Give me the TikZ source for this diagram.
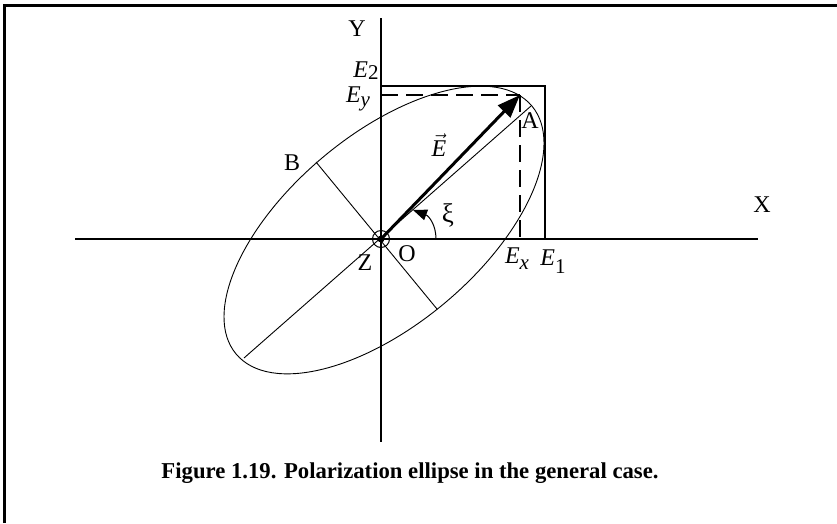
\documentclass[tikz,border=0pt]{standalone}
\usepackage{fontspec}
\setmainfont{Liberation Serif}
\usetikzlibrary{arrows.meta}
\newcommand\lsub[2]{\raisebox{-#1pt}{\fontsize{21}{23}\selectfont #2}}
\begin{document}
\begin{tikzpicture}[x=1pt,y=-1pt,
  lbl/.style={font=\fontsize{24}{28}\selectfont, inner sep=0pt},
  axis/.style={line width=1.5pt},
  thinline/.style={line width=0.9pt},
  dsh/.style={line width=1.5pt, dash pattern=on 17pt off 8pt}]
\useasboundingbox (0,0) rectangle (837,523);
% frame
\coordinate (F0) at (4.3,523);
\coordinate (F1) at (4.3,5.5);
\coordinate (F2) at (837,5.5);
\draw[line width=3pt] (F0) -- (F1) -- (F2);
% axes
\coordinate (O) at (381,239);
\coordinate (Yt) at (381,18);
\coordinate (Yb) at (381,442);
\coordinate (Xl) at (75,239);
\coordinate (Xr) at (758,239);
\draw[axis] (Yt) -- (Yb);
\draw[axis] (Xl) -- (Xr);
% box
\coordinate (E2c) at (381,86);
\coordinate (C) at (545,86);
\coordinate (E1c) at (545,239);
\draw[axis] (E2c) -- (C) -- (E1c);
% dashed projections
\coordinate (P) at (520,95);
\coordinate (Eyc) at (381,95);
\coordinate (Exc) at (520,239);
\draw[dsh] (Eyc) -- (P);
\draw[dsh] (P) -- (Exc);
% ellipse
\draw[thinline, rotate around={40:(384,230)}] (384,230) ellipse [x radius=193pt, y radius=95pt];
% axes of ellipse
\coordinate (A) at (531,106);
\coordinate (A2) at (244,358);
\coordinate (B) at (316,162);
\coordinate (B2) at (437,309);
\draw[thinline] (A2) -- (A);
\draw[thinline] (B) -- (B2);
% E vector
\draw[line width=3pt, -{Triangle[length=23pt,width=17pt]}] (O) -- (P);
% xi arc
\coordinate (XiS) at (436,239);
\coordinate (XiE) at (413,210);
\draw[line width=1pt, -{Triangle[length=14pt,width=11pt]}] (XiS) .. controls (436,225) and (429,216) .. (XiE);
% origin marker
\draw[line width=1pt] (O) circle[radius=8.5pt];
\fill (O) circle[radius=3.5pt];
% labels
\node[lbl] (Yl) at (357,29) {Y};
\node[lbl] (Xlab) at (762,205) {X};
\node[lbl] (E2l) at (366,71) {\textit{E}\lsub{2}{2}};
\node[lbl] (Eyl) at (358,99) {\textit{E}\lsub{4}{\textit{y}}};
\node[lbl] (Al) at (530,121) {A};
\node[lbl] (Bl) at (292,163) {B};
\node[lbl] (Ol) at (407,254) {O};
\node[lbl] (Zl) at (365,263) {Z};
\node[lbl] (Exl) at (517,259) {\textit{E}\lsub{6}{\textit{x}}};
\node[lbl] (E1l) at (553,262) {\textit{E}\lsub{8}{1}};
\node[lbl, font=\fontsize{27}{30}\selectfont] (xi) at (448,215) {ξ};
\node[lbl] (Ev) at (439,145) {$\vec{\mbox{\textit{E}}}$};
\node[font=\bfseries\fontsize{22.7}{26}\selectfont, inner sep=0pt] (cap) at (410,473) {Figure 1.19. Polarization ellipse in the general case.};
\end{tikzpicture}
\end{document}
